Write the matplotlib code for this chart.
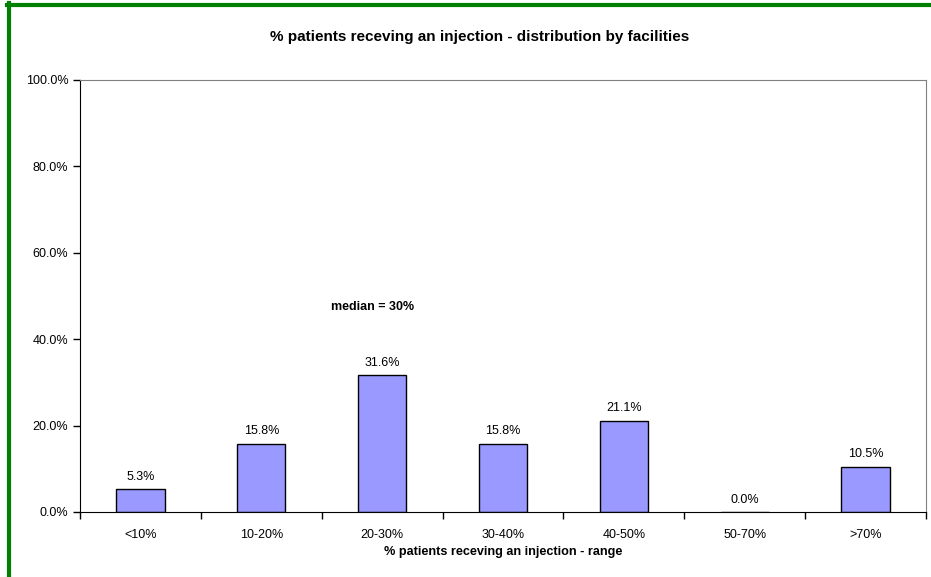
import numpy as np
import matplotlib.pyplot as plt
from matplotlib.lines import Line2D

plt.rcParams['font.family'] = ['Liberation Sans', 'DejaVu Sans']

# data
categories = ['<10%', '10-20%', '20-30%', '30-40%', '40-50%', '50-70%', '>70%']
values = [5.3, 15.8, 31.6, 15.8, 21.1, 0.0, 10.5]
yticks = [0, 20, 40, 60, 80, 100]

fig = plt.figure(figsize=(9.31, 5.77), dpi=100)
ax = fig.add_axes([80 / 931, 1 - 512 / 577, 846 / 931, 432 / 577])

x = np.arange(len(categories))
ax.bar(x, values, width=0.4, color='#9999FF', edgecolor='black', linewidth=1)

for xi, v in zip(x, values):
    ax.text(xi, v + 1.5, f'{v:.1f}%', ha='center', va='bottom', fontsize=9)

ax.set_xlim(-0.5, len(categories) - 0.5)
ax.set_ylim(0, 100)
ax.set_yticks(yticks)
ax.set_yticklabels([f'{t:.1f}%' for t in yticks], fontsize=9)

# category labels centered, ticks at boundaries
ax.set_xticks(x)
ax.set_xticklabels(categories, fontsize=9)
ax.tick_params(axis='x', which='major', length=0, pad=12)
ax.set_xticks(np.arange(len(categories) + 1) - 0.5, minor=True)
ax.tick_params(axis='x', which='minor', length=5, direction='out', width=1)
ax.tick_params(axis='y', length=5, direction='out', width=1)

ax.spines['left'].set_color('black')
ax.spines['bottom'].set_color('black')
ax.spines['top'].set_color('#808080')
ax.spines['right'].set_color('#808080')

ax.set_xlabel('% patients receving an injection - range', fontsize=9.1,
              fontweight='bold', labelpad=4)
fig.text(480 / 931, 1 - 37 / 577, '% patients receving an injection - distribution by facilities',
         ha='center', va='center', fontsize=11, fontweight='bold')
ax.text(1.92, 47.5, 'median = 30%', ha='center', va='center', fontsize=9,
        fontweight='bold')

# green frame of the embedded chart
fig.add_artist(Line2D([9 / 931, 9 / 931], [0, 1 - 3 / 577], color='green',
                      linewidth=3, transform=fig.transFigure))
fig.add_artist(Line2D([7 / 931, 1], [1 - 5 / 577, 1 - 5 / 577], color='green',
                      linewidth=3, transform=fig.transFigure))

fig.savefig('out.png', dpi=100)
